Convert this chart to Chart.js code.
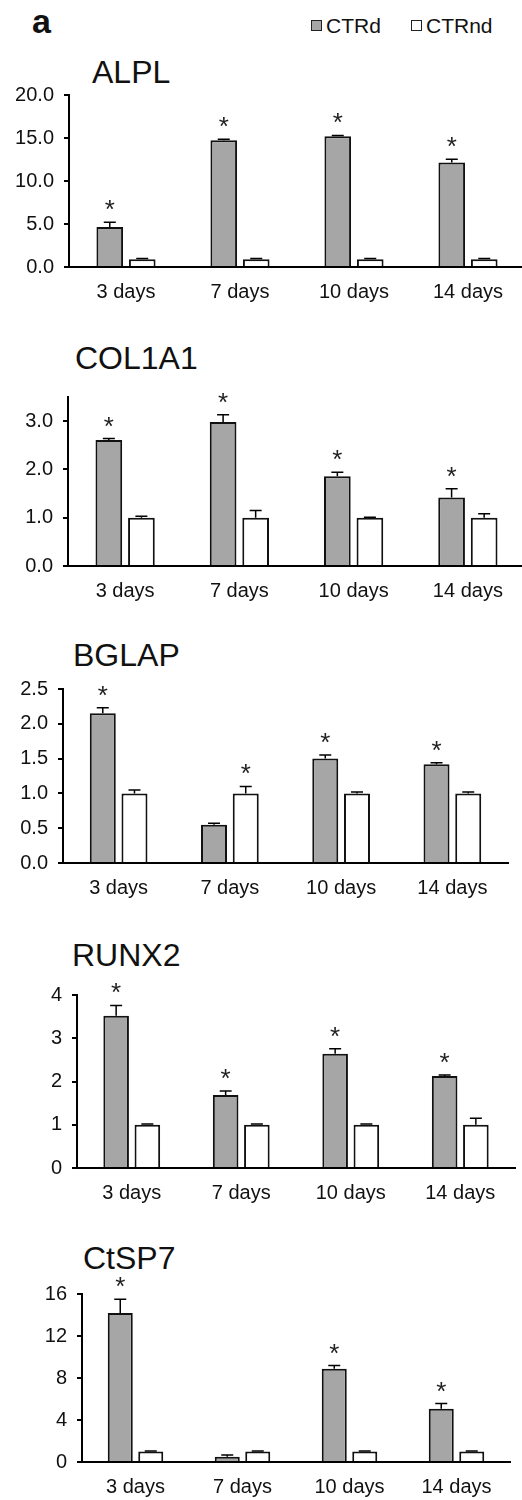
<!DOCTYPE html>
<html>
<head>
<meta charset="utf-8">
<script src="https://cdn.jsdelivr.net/npm/chart.js@4.4.1/dist/chart.umd.min.js"></script>
<style>
    html, body { margin: 0; padding: 0; background: #fff; overflow: hidden; }
    #page { position: relative; width: 522px; height: 1500px; font-family: "Liberation Sans", Arial, sans-serif; }
    #page canvas { position: absolute; left: 0; }
    .txt { position: absolute; white-space: nowrap; color: #111; }
    .box { position: absolute; width: 9px; height: 9px; border: 1.5px solid #222; }
</style>
</head>
<body>
<div id="page">
    <div class="txt" style="left:32px; top:4px; font-size:34px; line-height:34px; font-weight:bold;">a</div>
    <div class="box" style="left:311px; top:20px; background:#a6a6a6;"></div>
    <div class="txt" style="left:326px; top:15px; font-size:21px; line-height:21px;">CTRd</div>
    <div class="box" style="left:411px; top:20px; background:#fff;"></div>
    <div class="txt" style="left:426px; top:15px; font-size:21px; line-height:21px;">CTRnd</div>
</div>
<script>
// === Data ===
const days = ["3 days", "7 days", "10 days", "14 days"];

const alplCtrd = [4.65, 14.75, 15.2, 12.15];
const alplCtrdErr = [0.55, 0.1, 0.1, 0.37];
const alplCtrnd = [0.9, 0.9, 0.9, 0.9];
const alplCtrndErr = [0.1, 0.1, 0.1, 0.1];
const alplStarD = [true, true, true, true];
const alplStarND = [false, false, false, false];

const colCtrd = [2.61, 2.98, 1.86, 1.42];
const colCtrdErr = [0.03, 0.15, 0.08, 0.18];
const colCtrnd = [1.0, 1.0, 1.0, 1.0];
const colCtrndErr = [0.03, 0.15, 0.01, 0.08];
const colStarD = [true, true, true, true];
const colStarND = [false, false, false, false];

const bglapCtrd = [2.15, 0.55, 1.5, 1.42];
const bglapCtrdErr = [0.08, 0.02, 0.05, 0.02];
const bglapCtrnd = [1.0, 1.0, 1.0, 1.0];
const bglapCtrndErr = [0.05, 0.1, 0.02, 0.02];
const bglapStarD = [true, false, true, true];
const bglapStarND = [false, true, false, false];

const runxCtrd = [3.52, 1.69, 2.64, 2.13];
const runxCtrdErr = [0.24, 0.09, 0.12, 0.02];
const runxCtrnd = [1.0, 1.0, 1.0, 1.0];
const runxCtrndErr = [0.02, 0.02, 0.02, 0.15];
const runxStarD = [true, true, true, true];
const runxStarND = [false, false, false, false];

const sp7Ctrd = [14.2, 0.51, 8.88, 5.07];
const sp7CtrdErr = [1.3, 0.15, 0.3, 0.5];
const sp7Ctrnd = [1.0, 1.0, 1.0, 1.0];
const sp7CtrndErr = [0.05, 0.05, 0.05, 0.05];
const sp7StarD = [true, false, true, true];
const sp7StarND = [false, false, false, false];

// === Axis settings per panel ===
const genes = ["ALPL", "COL1A1", "BGLAP", "RUNX2", "CtSP7"];
const yMax = [20, 3.5, 2.5, 4, 16];
const yStep = [5, 1, 0.5, 1, 4];
const yDecimals = [1, 1, 1, 0, 0];

// === Panel placement (pixels) ===
const panels = [
    { plotTop: 87, zeroY: 267, axisX: 69, plotRight: 525, titleX: 92, titleY: 72 },
    { plotTop: 389, zeroY: 566, axisX: 68, plotRight: 525, titleX: 75, titleY: 358 },
    { plotTop: 681, zeroY: 863, axisX: 63, plotRight: 508, titleX: 73, titleY: 655 },
    { plotTop: 987, zeroY: 1168, axisX: 77, plotRight: 515, titleX: 72, titleY: 955 },
    { plotTop: 1286, zeroY: 1462, axisX: 82, plotRight: 510, titleX: 83, titleY: 1258 },
];

const series = [
    [alplCtrd, alplCtrdErr, alplStarD, alplCtrnd, alplCtrndErr, alplStarND],
    [colCtrd, colCtrdErr, colStarD, colCtrnd, colCtrndErr, colStarND],
    [bglapCtrd, bglapCtrdErr, bglapStarD, bglapCtrnd, bglapCtrndErr, bglapStarND],
    [runxCtrd, runxCtrdErr, runxStarD, runxCtrnd, runxCtrndErr, runxStarND],
    [sp7Ctrd, sp7CtrdErr, sp7StarD, sp7Ctrnd, sp7CtrndErr, sp7StarND],
];

const FONT = '"Liberation Sans", Arial, sans-serif';
const CANVAS_W = 530;

// === Error bars and asterisks ===
const errorBarPlugin = {
    id: "errorBars",
    afterDatasetsDraw(chart) {
        const ctx = chart.ctx;
        const y = chart.scales.y;
        chart.data.datasets.forEach((ds, di) => {
            const meta = chart.getDatasetMeta(di);
            meta.data.forEach((bar, i) => {
                const top = y.getPixelForValue(ds.data[i] + ds.errors[i]);
                ctx.save();
                ctx.strokeStyle = "#000";
                ctx.lineWidth = 1.5;
                ctx.beginPath();
                ctx.moveTo(bar.x, bar.y);
                ctx.lineTo(bar.x, top);
                ctx.moveTo(bar.x - 6, top);
                ctx.lineTo(bar.x + 6, top);
                ctx.stroke();
                if (ds.stars[i]) {
                    ctx.fillStyle = "#222";
                    ctx.font = "26px " + FONT;
                    ctx.textAlign = "center";
                    ctx.textBaseline = "alphabetic";
                    ctx.fillText("*", bar.x, top - 4);
                }
                ctx.restore();
            });
        });
    },
};

function drawPanel(idx) {
    const p = panels[idx];
    const [d, dErr, dStar, nd, ndErr, ndStar] = series[idx];
    const page = document.getElementById("page");

    const canvasTop = p.plotTop - 14;
    const canvasH = p.zeroY + 42 - canvasTop;

    // title
    const title = document.createElement("div");
    title.className = "txt";
    title.style.cssText = `left:${p.titleX}px; top:${p.titleY - 16}px; font-size:32px; line-height:32px;`;
    title.textContent = genes[idx];
    page.appendChild(title);

    const canvas = document.createElement("canvas");
    canvas.width = CANVAS_W;
    canvas.height = canvasH;
    canvas.style.top = canvasTop + "px";
    page.appendChild(canvas);

    new Chart(canvas, {
        type: "bar",
        data: {
            labels: days,
            datasets: [
                {
                    label: "CTRd",
                    data: d,
                    errors: dErr,
                    stars: dStar,
                    backgroundColor: "#a6a6a6",
                    borderColor: "#111",
                    borderWidth: 2,
                },
                {
                    label: "CTRnd",
                    data: nd,
                    errors: ndErr,
                    stars: ndStar,
                    backgroundColor: "#fff",
                    borderColor: "#111",
                    borderWidth: 2,
                },
            ],
        },
        options: {
            responsive: false,
            animation: false,
            categoryPercentage: 0.57,
            barPercentage: 0.82,
            layout: {
                padding: { top: p.plotTop - canvasTop, right: CANVAS_W - p.plotRight, left: 0, bottom: 0 },
            },
            plugins: {
                legend: { display: false },
                tooltip: { enabled: false },
            },
            scales: {
                x: {
                    grid: { display: true, drawOnChartArea: false, drawTicks: false },
                    border: { display: true, color: "#000", width: 2 },
                    ticks: { color: "#111", font: { family: FONT, size: 20 }, padding: 13 },
                    afterFit: (s) => { s.height = canvasTop + canvasH - p.zeroY; },
                },
                y: {
                    min: 0,
                    max: yMax[idx],
                    grid: { display: true, drawOnChartArea: false, drawTicks: true, tickLength: 5, color: "#000", lineWidth: 2 },
                    border: { display: true, color: "#000", width: 2 },
                    ticks: {
                        stepSize: yStep[idx],
                        includeBounds: false,
                        color: "#111",
                        font: { family: FONT, size: 20 },
                        padding: 10,
                        callback: (v) => Number(v).toFixed(yDecimals[idx]),
                    },
                    afterFit: (s) => { s.width = p.axisX; },
                },
            },
        },
        plugins: [errorBarPlugin],
    });
}

// === Draw all panels ===
genes.forEach((g, i) => drawPanel(i));
</script>
</body>
</html>
